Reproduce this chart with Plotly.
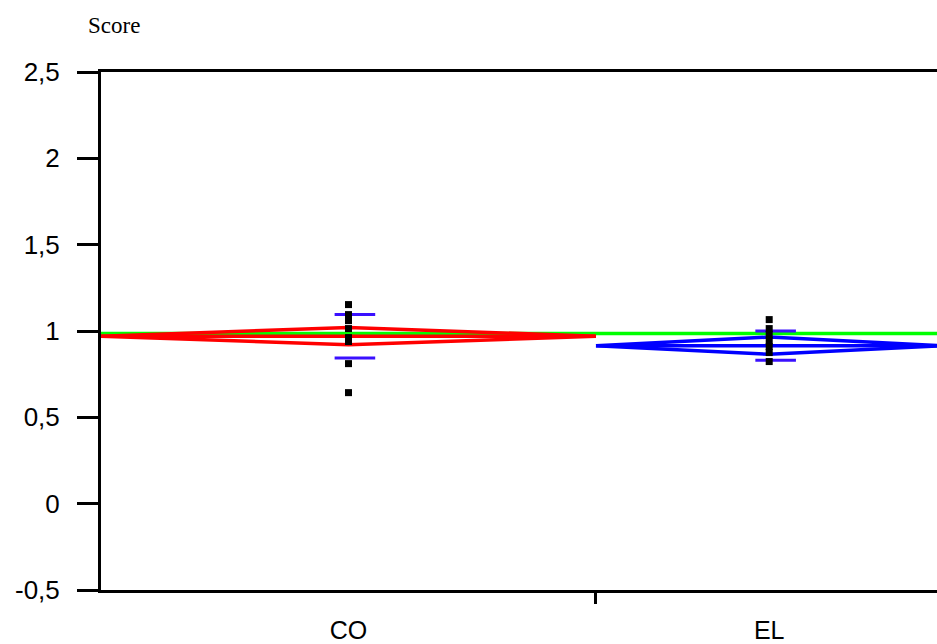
import plotly.graph_objects as go

# ---- data ----
groups = ["CO", "EL"]
group_n = [10, 7]                      # group sizes (diamond widths)
group_means = [0.970, 0.915]
group_ci_half = [0.050, 0.050]
group_sd = [0.126, 0.085]
grand_mean = 0.985

co_points = [1.153, 1.095, 1.060, 1.014, 0.962, 0.939, 0.811, 0.643]
el_points = [1.066, 1.014, 0.979, 0.944, 0.910, 0.875, 0.823]
points = [co_points, el_points]

y_tickvals = [-0.5, 0, 0.5, 1, 1.5, 2, 2.5]
y_ticktext = ["-0,5", "0", "0,5", "1", "1,5", "2", "2,5"]

diamond_colors = ["#ff0000", "#0000ff"]
sd_color = "#3a10ff"
grand_color = "#00ff00"

fig = go.Figure()

# positions from group sizes
starts = []
acc = 0
for n in group_n:
    starts.append(acc)
    acc += n
centers = [s + n / 2 for s, n in zip(starts, group_n)]
total = acc

# grand mean line
fig.add_trace(go.Scatter(x=[0, total], y=[grand_mean, grand_mean], mode="lines",
                         line=dict(color=grand_color, width=3.5), hoverinfo="skip"))

for i, g in enumerate(groups):
    s, n, c = starts[i], group_n[i], centers[i]
    m, h = group_means[i], group_ci_half[i]
    # diamond
    fig.add_trace(go.Scatter(x=[s, c, s + n, c, s], y=[m, m + h, m, m - h, m],
                             mode="lines", line=dict(color=diamond_colors[i], width=3.5),
                             hoverinfo="skip"))
    # mean line
    fig.add_trace(go.Scatter(x=[s, s + n], y=[m, m], mode="lines",
                             line=dict(color=diamond_colors[i], width=3.5), hoverinfo="skip"))
    # sd bars
    off, hw = 0.13, 0.41
    for v in (m + group_sd[i], m - group_sd[i]):
        fig.add_trace(go.Scatter(x=[c + off - hw, c + off + hw], y=[v, v], mode="lines",
                                 line=dict(color=sd_color, width=3), hoverinfo="skip"))
    # points
    fig.add_trace(go.Scatter(x=[c] * len(points[i]), y=points[i], mode="markers",
                             marker=dict(symbol="square", size=7, color="black",
                                         line=dict(width=0)), hoverinfo="skip"))

x_range = [0, 16.89]

fig.update_layout(
    width=937, height=644,
    margin=dict(l=101, r=0, t=72, b=54),
    paper_bgcolor="white", plot_bgcolor="white",
    showlegend=False,
    font=dict(family="Liberation Sans, Arial, sans-serif", color="black"),
    xaxis=dict(range=x_range, tickvals=centers, ticktext=groups, ticks="",
               showgrid=False, zeroline=False, showline=True, linecolor="black",
               linewidth=3, mirror=True, tickfont=dict(size=25),
               ticklabelstandoff=16),
    xaxis2=dict(range=x_range, overlaying="x", anchor="y", side="bottom",
                tickvals=[group_n[0]], ticks="outside", ticklen=13, tickwidth=3,
                tickcolor="black", showticklabels=False, showgrid=False,
                zeroline=False, showline=False),
    yaxis=dict(range=[-0.5, 2.5], tickvals=y_tickvals, ticktext=y_ticktext,
               ticks="outside", ticklen=21, tickwidth=3, tickcolor="black",
               showgrid=False, zeroline=False, showline=True, linecolor="black",
               linewidth=3, tickfont=dict(size=26), ticklabelstandoff=12),
    annotations=[dict(text="Score", x=(114 - 101) / 836, y=1 + (72 - 25) / 518,
                      xref="paper", yref="paper", xanchor="center", yanchor="middle",
                      showarrow=False,
                      font=dict(family="Liberation Serif, Times New Roman, serif", size=23))],
)

# dummy trace on xaxis2 so that the axis renders
fig.add_trace(go.Scatter(x=[0], y=[None], xaxis="x2", mode="markers", hoverinfo="skip"))

fig.write_html("out.html")
